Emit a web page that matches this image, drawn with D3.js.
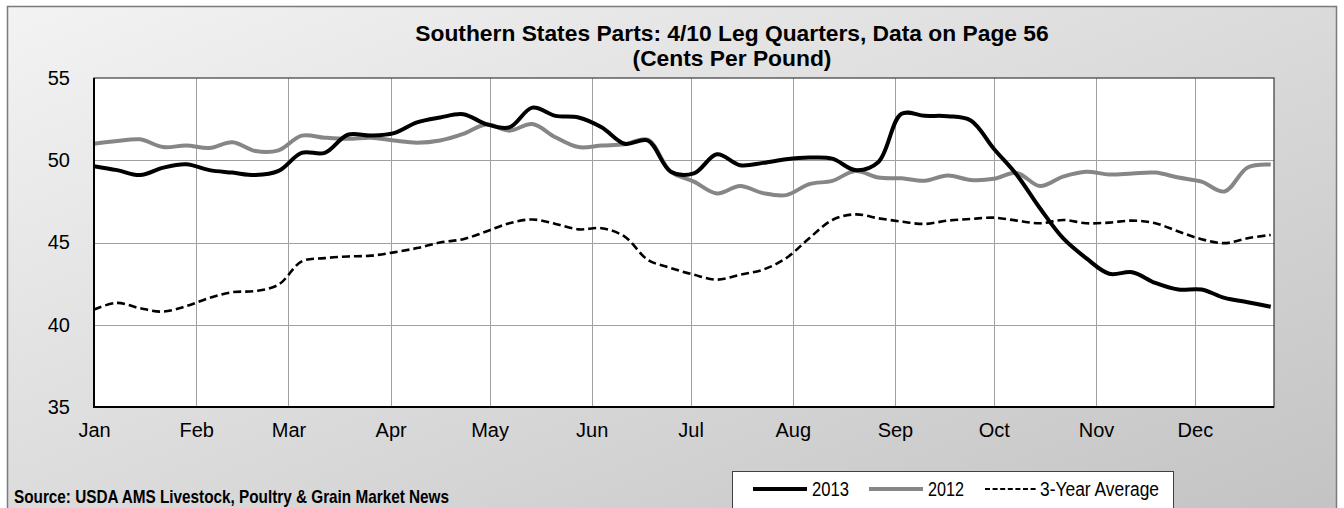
<!DOCTYPE html>
<html><head><meta charset="utf-8">
<script src="https://cdn.jsdelivr.net/npm/d3@7/dist/d3.min.js"></script>
<style>html,body{margin:0;padding:0;background:#fff;} svg{display:block;font-family:"Liberation Sans",Arial,sans-serif;}</style>
</head><body><svg id="c" width="1344" height="508"></svg>
<script>
// ---- data (weekly, cents per pound) ----
const seriesNames = ["2013", "2012", "3-Year Average"];
const startDate = new Date(2013, 0, 1);
const endDate = new Date(2013, 11, 25);
const yTicks = [35, 40, 45, 50, 55];
const monthLabels = ["Jan","Feb","Mar","Apr","May","Jun","Jul","Aug","Sep","Oct","Nov","Dec"];
const s2013 = [49.64, 49.4, 49.1, 49.55, 49.75, 49.4, 49.25, 49.1, 49.35, 50.45, 50.45, 51.55, 51.5,
  51.65, 52.3, 52.6, 52.8, 52.2, 52.0, 53.2, 52.7, 52.6, 52.0, 51.0, 51.2, 49.3, 49.2,
  50.36, 49.7, 49.84, 50.06, 50.16, 50.1, 49.4, 49.9, 52.82, 52.7, 52.68, 52.42, 50.7,
  49.1, 47.08, 45.26, 44.05, 43.1, 43.19, 42.54, 42.14, 42.14, 41.63, 41.37, 41.09];
const s2012 = [51.0, 51.17, 51.27, 50.8, 50.9, 50.75, 51.1, 50.56, 50.6, 51.5, 51.37, 51.3, 51.37,
  51.2, 51.07, 51.2, 51.6, 52.18, 51.8, 52.2, 51.4, 50.8, 50.9, 50.97, 51.25, 49.3, 48.7,
  47.98, 48.43, 48.0, 47.88, 48.55, 48.75, 49.35, 48.95, 48.9, 48.75, 49.07, 48.8, 48.87,
  49.23, 48.43, 49.0, 49.3, 49.13, 49.2, 49.25, 48.95, 48.7, 48.1, 49.56, 49.74];
const avg3 = [40.93, 41.33, 41.0, 40.8, 41.13, 41.63, 41.98, 42.05, 42.44, 43.85, 44.05, 44.15, 44.2,
  44.4, 44.66, 45.0, 45.2, 45.67, 46.17, 46.4, 46.13, 45.8, 45.87, 45.36, 43.95, 43.45, 43.04,
  42.74, 43.04, 43.35, 44.05, 45.26, 46.37, 46.71, 46.47, 46.27, 46.13, 46.33, 46.43, 46.51,
  46.33, 46.17, 46.37, 46.17, 46.21, 46.33, 46.17, 45.67, 45.2, 44.96, 45.26, 45.46];

const svg = d3.select("#c");
const W = 1344, H = 508;
const L = 94, R = 1274, T = 78, B = 407;

// background gradient
const defs = svg.append("defs");
const g = defs.append("linearGradient").attr("id","bg").attr("x1","0").attr("y1","0").attr("x2","1").attr("y2","1");
g.append("stop").attr("offset","0%").attr("stop-color","#f3f3f3");
g.append("stop").attr("offset","100%").attr("stop-color","#c2c2c2");
svg.append("rect").attr("x",7.5).attr("y",6.5).attr("width",1329).attr("height",530)
  .attr("fill","url(#bg)").attr("stroke","#7a7a7a").attr("stroke-width",1.5);

const x = d3.scaleTime().domain([startDate, endDate]).range([L, R]);
const y = d3.scaleLinear().domain([35, 55]).range([B, T]);
const weeks = s2013.map((_, i) => d3.timeDay.offset(startDate, 7 * i));

// plot area
svg.append("rect").attr("x",L).attr("y",T).attr("width",R-L).attr("height",B-T).attr("fill","#fff");

const months = d3.timeMonth.range(startDate, endDate);
// gridlines
svg.append("g").selectAll("line").data(months.slice(1)).join("line")
  .attr("x1",d=>Math.round(x(d))+0.5).attr("x2",d=>Math.round(x(d))+0.5)
  .attr("y1",T).attr("y2",B).attr("stroke","#a0a0a0").attr("stroke-width",1);
svg.append("g").selectAll("line").data(yTicks.slice(1,-1)).join("line")
  .attr("x1",L).attr("x2",R).attr("y1",d=>Math.round(y(d))+0.5).attr("y2",d=>Math.round(y(d))+0.5)
  .attr("stroke","#a0a0a0").attr("stroke-width",1);

// lines
const line = d3.line().x((d,i)=>x(weeks[i])).y(d=>y(d)).curve(d3.curveCatmullRom.alpha(0.5));
svg.append("path").datum(avg3).attr("d",line).attr("fill","none").attr("stroke","#000")
  .attr("stroke-width",2.6).attr("stroke-dasharray","8,4");
svg.append("path").datum(s2012).attr("d",line).attr("fill","none").attr("stroke","#868686")
  .attr("stroke-width",4).attr("stroke-linejoin","round");
svg.append("path").datum(s2013).attr("d",line).attr("fill","none").attr("stroke","#000")
  .attr("stroke-width",4).attr("stroke-linejoin","round");

// border
svg.append("rect").attr("x",L).attr("y",T).attr("width",R-L).attr("height",B-T)
  .attr("fill","none").attr("stroke","#3a3a3a").attr("stroke-width",1.2);
svg.append("line").attr("x1",L).attr("x2",L).attr("y1",T).attr("y2",B+1).attr("stroke","#000").attr("stroke-width",2);
svg.append("line").attr("x1",L-1).attr("x2",R).attr("y1",B).attr("y2",B).attr("stroke","#000").attr("stroke-width",2);

// axes
const xAxis = d3.axisBottom(x).tickValues(months).tickSize(0).tickPadding(16)
  .tickFormat((d,i)=>monthLabels[d.getMonth()]);
const gx = svg.append("g").attr("transform",`translate(0,${B})`).call(xAxis);
gx.select(".domain").remove();
gx.selectAll("text").attr("font-size",20).attr("fill","#000").attr("font-family","Liberation Sans, Arial, sans-serif");

const yAxis = d3.axisLeft(y).tickValues(yTicks).tickSize(0).tickPadding(24).tickFormat(d3.format("d"));
const gy = svg.append("g").attr("transform",`translate(${L},0)`).call(yAxis);
gy.select(".domain").remove();
gy.selectAll("text").attr("font-size",20).attr("fill","#000").attr("font-family","Liberation Sans, Arial, sans-serif");

// title
svg.append("text").attr("x",732).attr("y",41).attr("text-anchor","middle")
  .attr("font-size",22.8).attr("font-weight","bold").attr("fill","#000")
  .text("Southern States Parts: 4/10 Leg Quarters, Data on Page 56");
svg.append("text").attr("x",732).attr("y",66).attr("text-anchor","middle")
  .attr("font-size",22.8).attr("font-weight","bold").attr("fill","#000")
  .text("(Cents Per Pound)");

// source
svg.append("text").attr("x",14).attr("y",503).attr("font-size",19).attr("font-weight","bold")
  .attr("textLength",435).attr("lengthAdjust","spacingAndGlyphs").attr("fill","#000")
  .text("Source: USDA AMS Livestock, Poultry & Grain Market News");

// legend
svg.append("rect").attr("x",732.5).attr("y",471.5).attr("width",441).attr("height",50)
  .attr("fill","#fff").attr("stroke","#404040").attr("stroke-width",1);
const legItems = [
  {name: seriesNames[0], x1:753, x2:807, tx:812, tw:37, color:"#000", w:4, dash:null},
  {name: seriesNames[1], x1:869, x2:923, tx:928, tw:36, color:"#868686", w:4, dash:null},
  {name: seriesNames[2], x1:985, x2:1037, tx:1040, tw:119, color:"#000", w:2, dash:"5,2.6"}
];
const lg = svg.append("g");
legItems.forEach(it => {
  lg.append("line").attr("x1",it.x1).attr("x2",it.x2).attr("y1",489).attr("y2",489)
    .attr("stroke",it.color).attr("stroke-width",it.w).attr("stroke-dasharray",it.dash);
  lg.append("text").attr("x",it.tx).attr("y",496).attr("font-size",20)
    .attr("textLength",it.tw).attr("lengthAdjust","spacingAndGlyphs").attr("fill","#000").text(it.name);
});
</script>
</body></html>
